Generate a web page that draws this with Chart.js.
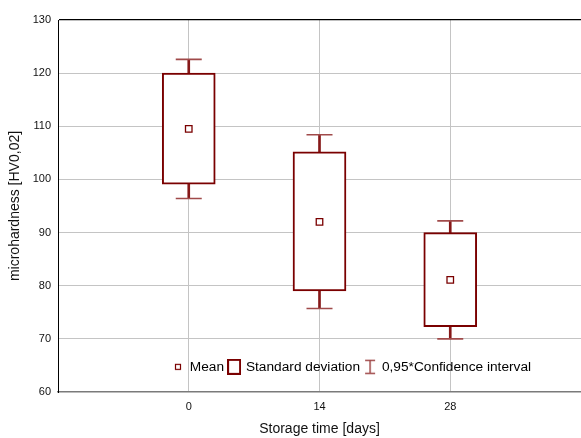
<!DOCTYPE html>
<html>
<head>
<meta charset="utf-8">
<script src="https://cdn.jsdelivr.net/npm/chart.js@4.4.1/dist/chart.umd.min.js"></script>
<style>
  html, body { margin: 0; padding: 0; background: #fff; }
  #wrap { width: 581px; height: 438px; }
</style>
</head>
<body>
<div id="wrap"><canvas id="c" width="581" height="438"></canvas></div>
<script>
// ---- data ----
const categories = ['0', '14', '28'];          // storage time [days]
const meanValues = [109.5, 92.0, 81.1];         // mean
const sdLow      = [99.1, 79.0, 72.3];          // mean - standard deviation
const sdHigh     = [120.0, 105.2, 90.0];        // mean + standard deviation
const ciLow      = [96.4, 75.7, 70.0];          // lower 0,95*confidence limit
const ciHigh     = [122.6, 108.4, 92.2];        // upper 0,95*confidence limit
const yTicks     = [60, 70, 80, 90, 100, 110, 120, 130];
const legendTexts = ['Mean', 'Standard deviation', '0,95*Confidence interval'];

// category axis with an empty slot on each side (axis spans -14 .. 42)
const labels = [''].concat(categories, ['']);
const pad = arr => [null].concat(arr, [null]);

const FONT = "'Liberation Sans', Arial, sans-serif";
const BOX = '#7a0000';
const CAP = '#a04a4a';

// legend icons
function icon(w, h, draw) {
  const c = document.createElement('canvas');
  c.width = w; c.height = h;
  draw(c.getContext('2d'));
  return c;
}
const meanIcon = icon(8, 8, g => {
  g.fillStyle = '#fff'; g.fillRect(1, 1, 6, 6);
  g.strokeStyle = BOX; g.lineWidth = 1.2; g.strokeRect(1.5, 1.5, 5, 5);
});
const sdIcon = icon(14, 16, g => {
  g.fillStyle = '#fff'; g.fillRect(1, 1, 12, 14);
  g.strokeStyle = BOX; g.lineWidth = 2; g.strokeRect(1, 1, 12, 14);
});
const ciIcon = icon(12, 16, g => {
  g.strokeStyle = CAP; g.lineWidth = 1.5;
  g.beginPath();
  g.moveTo(1, 1.5); g.lineTo(11, 1.5);
  g.moveTo(6, 1.5); g.lineTo(6, 14.5);
  g.moveTo(1, 14.5); g.lineTo(11, 14.5);
  g.stroke();
});
const legendIcons = [meanIcon, sdIcon, ciIcon];

const legendPlacer = {
  id: 'legendPlacer',
  beforeUpdate(chart) {
    if (chart.legend) chart.legend.isHorizontal = () => true;
  },
  afterUpdate(chart) {
    const lg = chart.legend;
    if (!lg) return;
    const left = 168, top = 355;
    const dx = left - lg.left, dy = top - lg.top;
    lg.left += dx; lg.top += dy; lg.bottom += dy;
    lg.right = 581;
    lg.width = lg.right - lg.left;
    (lg.legendHitBoxes || []).forEach(h => { h.left += dx; h.top += dy; });
  }
};

new Chart(document.getElementById('c'), {
  type: 'bar',
  data: {
    labels: labels,
    datasets: [
      { // whisker stems
        type: 'bar', data: pad(categories.map((_, i) => [ciLow[i], ciHigh[i]])),
        backgroundColor: '#861818', borderWidth: 0, barThickness: 2, grouped: false, order: 5
      },
      { // standard deviation box
        type: 'bar', data: pad(categories.map((_, i) => [sdLow[i], sdHigh[i]])),
        backgroundColor: '#ffffff', borderColor: BOX, borderWidth: 2, borderSkipped: false,
        barThickness: 53, grouped: false, order: 4
      },
      { // upper caps
        type: 'line', data: pad(ciHigh), showLine: false, pointStyle: 'line',
        pointRadius: 13, pointBorderColor: CAP, pointBorderWidth: 1.6, order: 3
      },
      { // lower caps
        type: 'line', data: pad(ciLow), showLine: false, pointStyle: 'line',
        pointRadius: 13, pointBorderColor: CAP, pointBorderWidth: 1.6, order: 2
      },
      { // mean
        type: 'line', data: pad(meanValues), showLine: false, pointStyle: 'rect',
        pointRadius: 4.6, pointBackgroundColor: '#ffffff', pointBorderColor: BOX,
        pointBorderWidth: 1.3, order: 1
      }
    ]
  },
  options: {
    responsive: false,
    animation: false,
    events: [],
    layout: { autoPadding: false, padding: { top: 20, right: 0, bottom: 0, left: 0 } },
    plugins: {
      tooltip: { enabled: false },
      legend: {
        display: true,
        position: 'chartArea',
        align: 'start',
        labels: {
          usePointStyle: true,
          boxWidth: 10,
          padding: 5,
          color: '#111',
          font: { family: FONT, size: 13.7 },
          generateLabels: () => legendTexts.map((t, i) => ({
            text: t, pointStyle: legendIcons[i], fillStyle: '#fff', strokeStyle: BOX,
            lineWidth: 0, hidden: false, datasetIndex: i
          }))
        }
      }
    },
    scales: {
      x: {
        type: 'category',
        offset: false,
        grid: {
          offset: false,
          drawTicks: false,
          color: c => (c.index === 0 || c.index === labels.length - 1) ? 'rgba(0,0,0,0)' : '#c4c4c4',
          lineWidth: 1
        },
        border: { display: true, color: '#7a7a7a', width: 1.5 },
        ticks: {
          padding: 8,
          color: '#111',
          font: { family: FONT, size: 11 },
          maxRotation: 0,
          autoSkip: false,
          callback: (v, i) => labels[i]
        },
        title: {
          display: true, text: 'Storage time [days]', color: '#111',
          font: { family: FONT, size: 14 }, padding: { top: 0, bottom: 0 }
        },
        afterFit: s => { s.height = 46; s.paddingLeft = 0; s.paddingRight = 0; }
      },
      y: {
        type: 'linear',
        min: yTicks[0], max: yTicks[yTicks.length - 1],
        afterBuildTicks: s => { s.ticks = yTicks.map(v => ({ value: v })); },
        grid: {
          drawTicks: false,
          color: c => c.tick.value === 130 ? '#000000' : (c.tick.value === 60 ? 'rgba(0,0,0,0)' : '#c4c4c4'),
          lineWidth: c => c.tick.value === 130 ? 1.3 : 1
        },
        border: { display: true, color: '#000', width: 1 },
        ticks: {
          padding: 7,
          color: '#111',
          font: { family: FONT, size: 11 }
        },
        title: {
          display: true, text: 'microhardness [HV0,02]', color: '#111',
          font: { family: FONT, size: 14 }, padding: { top: 7, bottom: 0 }
        },
        afterFit: s => { s.width = 58; }
      }
    }
  },
  plugins: [legendPlacer]
});
</script>
</body>
</html>
